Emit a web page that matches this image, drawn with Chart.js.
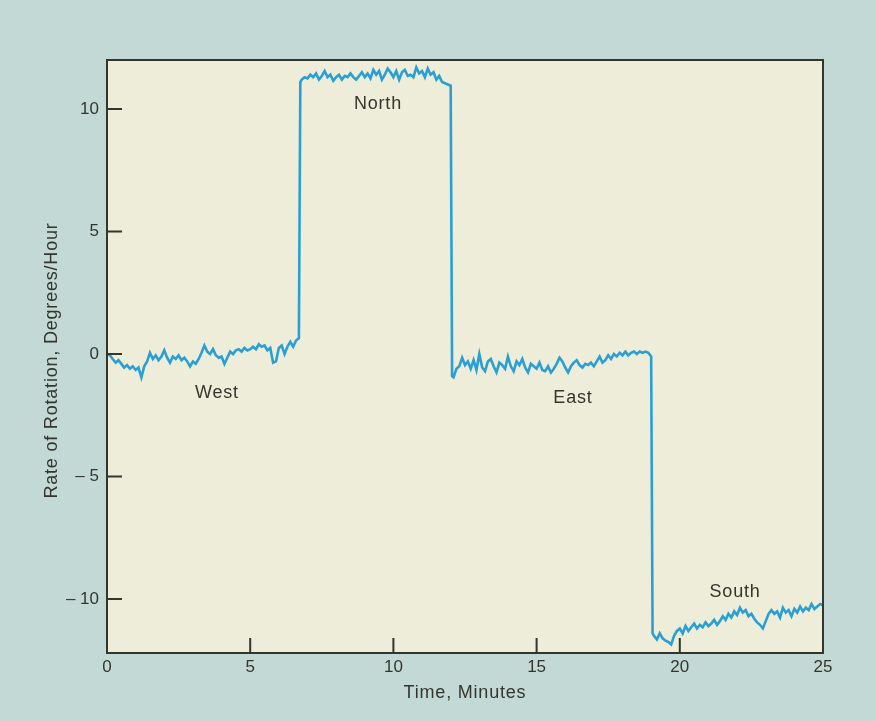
<!DOCTYPE html>
<html>
<head>
<meta charset="utf-8">
<script src="https://cdn.jsdelivr.net/npm/chart.js@4"></script>
<style>
  html, body { margin: 0; padding: 0; background: #c3d9d5; }
  #wrap { width: 876px; height: 721px; position: relative; }
</style>
</head>
<body>
<div id="wrap"><canvas id="rotChart" width="876" height="721"></canvas></div>
<script>
// Rate of rotation vs time, gyro pointed at four headings

const timeMinutes = [
  0.0, 0.1, 0.2, 0.3, 0.4, 0.5, 0.6, 0.7, 0.8, 0.9,
  1.0, 1.1, 1.2, 1.3, 1.4, 1.5, 1.6, 1.7, 1.8, 1.9,
  2.0, 2.1, 2.2, 2.3, 2.4, 2.5, 2.6, 2.7, 2.8, 2.9,
  3.0, 3.1, 3.2, 3.3, 3.4, 3.5, 3.6, 3.7, 3.8, 3.9,
  4.0, 4.1, 4.2, 4.3, 4.4, 4.5, 4.6, 4.7, 4.8, 4.9,
  5.0, 5.1, 5.2, 5.3, 5.4, 5.5, 5.6, 5.7, 5.8, 5.9,
  6.0, 6.1, 6.2, 6.3, 6.4, 6.5, 6.6, 6.7, 6.75,
  6.8, 6.9, 7.0, 7.1, 7.2, 7.3, 7.4, 7.5, 7.6, 7.7, 7.8, 7.9,
  8.0, 8.1, 8.2, 8.3, 8.4, 8.5, 8.6, 8.7, 8.8, 8.9,
  9.0, 9.1, 9.2, 9.3, 9.4, 9.5, 9.6, 9.7, 9.8, 9.9,
  10.0, 10.1, 10.2, 10.3, 10.4, 10.5, 10.6, 10.7, 10.8, 10.9,
  11.0, 11.1, 11.2, 11.3, 11.4, 11.5, 11.6, 11.7, 11.8, 11.9,
  12.0, 12.05,
  12.1, 12.2, 12.3, 12.4, 12.5, 12.6, 12.7, 12.8, 12.9,
  13.0, 13.1, 13.2, 13.3, 13.4, 13.5, 13.6, 13.7, 13.8, 13.9,
  14.0, 14.1, 14.2, 14.3, 14.4, 14.5, 14.6, 14.7, 14.8, 14.9,
  15.0, 15.1, 15.2, 15.3, 15.4, 15.5, 15.6, 15.7, 15.8, 15.9,
  16.0, 16.1, 16.2, 16.3, 16.4, 16.5, 16.6, 16.7, 16.8, 16.9,
  17.0, 17.1, 17.2, 17.3, 17.4, 17.5, 17.6, 17.7, 17.8, 17.9,
  18.0, 18.1, 18.2, 18.3, 18.4, 18.5, 18.6, 18.7, 18.8, 18.9,
  19.0, 19.05,
  19.1, 19.2, 19.3, 19.4, 19.5, 19.6, 19.7, 19.8, 19.9,
  20.0, 20.1, 20.2, 20.3, 20.4, 20.5, 20.6, 20.7, 20.8, 20.9,
  21.0, 21.1, 21.2, 21.3, 21.4, 21.5, 21.6, 21.7, 21.8, 21.9,
  22.0, 22.1, 22.2, 22.3, 22.4, 22.5, 22.6, 22.7, 22.8, 22.9,
  23.0, 23.1, 23.2, 23.3, 23.4, 23.5, 23.6, 23.7, 23.8, 23.9,
  24.0, 24.1, 24.2, 24.3, 24.4, 24.5, 24.6, 24.7, 24.8, 24.9,
  25.0
];

const rateDegPerHour = [
  // West
  0.0, -0.05, -0.2, -0.35, -0.25, -0.4, -0.55, -0.45, -0.6, -0.5,
  -0.65, -0.55, -0.95, -0.5, -0.3, 0.05, -0.2, -0.05, -0.25, -0.1,
  0.15, -0.15, -0.35, -0.1, -0.2, -0.05, -0.25, -0.15, -0.3, -0.5,
  -0.3, -0.4, -0.2, 0.05, 0.35, 0.1, 0.0, 0.2, -0.05, -0.15,
  -0.1, -0.4, -0.15, 0.1, 0.0, 0.15, 0.2, 0.1, 0.25, 0.15,
  0.2, 0.3, 0.2, 0.4, 0.3, 0.35, 0.15, 0.25, -0.35, -0.3,
  0.25, 0.35, 0.0, 0.3, 0.5, 0.3, 0.55, 0.65, 11.1,
  // North
  11.2, 11.3, 11.25, 11.4, 11.3, 11.45, 11.2, 11.35, 11.55, 11.3, 11.4, 11.15,
  11.3, 11.4, 11.2, 11.35, 11.3, 11.45, 11.3, 11.2, 11.35, 11.5,
  11.3, 11.45, 11.25, 11.6, 11.4, 11.55, 11.2, 11.4, 11.65, 11.5,
  11.3, 11.55, 11.2, 11.5, 11.6, 11.35, 11.4, 11.3, 11.7, 11.45,
  11.55, 11.3, 11.65, 11.4, 11.5, 11.2, 11.35, 11.1, 11.05, 11.0,
  10.95, -0.9,
  // East
  -0.95, -0.6, -0.5, -0.15, -0.45, -0.3, -0.6, -0.25, -0.65,
  0.0, -0.55, -0.7, -0.3, -0.2, -0.5, -0.75, -0.35, -0.45, -0.6,
  -0.1, -0.5, -0.7, -0.3, -0.45, -0.2, -0.55, -0.75, -0.4, -0.5,
  -0.6, -0.35, -0.65, -0.7, -0.5, -0.75, -0.6, -0.4, -0.15, -0.3,
  -0.55, -0.75, -0.5, -0.35, -0.25, -0.45, -0.55, -0.4, -0.45, -0.35,
  -0.5, -0.3, -0.1, -0.35, -0.25, -0.05, -0.2, 0.0, -0.1, 0.05,
  -0.05, 0.1, -0.05, 0.05, 0.1, 0.0, 0.1, 0.05, 0.1, 0.05,
  -0.1, -11.4,
  // South
  -11.5, -11.65, -11.4, -11.6, -11.7, -11.75, -11.85, -11.5, -11.3,
  -11.2, -11.4, -11.1, -11.3, -11.15, -11.0, -11.2, -11.05, -11.15, -10.95,
  -11.1, -11.0, -10.85, -11.05, -10.9, -10.7, -10.85, -10.6, -10.75, -10.5,
  -10.65, -10.35, -10.55, -10.45, -10.7, -10.6, -10.8, -10.95, -11.05, -11.2,
  -10.9, -10.6, -10.45, -10.6, -10.5, -10.75, -10.35, -10.55, -10.45, -10.7,
  -10.4, -10.55, -10.3, -10.5, -10.35, -10.45, -10.2, -10.4, -10.3, -10.2,
  -10.25
];

const xTickValues = [0, 5, 10, 15, 20, 25];
const yTickValues = [10, 5, 0, -5, -10];

const xTitle = 'Time, Minutes';
const yTitle = 'Rate of Rotation, Degrees/Hour';

const headingNames = ['West', 'North', 'East', 'South'];
const headingTimes = [3.84, 9.46, 16.27, 21.93];
const headingRates = [-1.6, 10.2, -1.8, -9.7];

const inkColor = '#34362e';
const fontFamily = 'Liberation Sans, Arial, sans-serif';

function minusLabel(v) {
  return v < 0 ? '\u2013 ' + Math.abs(v) : String(v);
}

// plot box, inner tick marks, axis titles and the heading names
const framePlugin = {
  id: 'frame',
  beforeDraw(chart) {
    const { ctx, chartArea: a } = chart;
    ctx.save();
    ctx.fillStyle = '#c3d9d5';
    ctx.fillRect(0, 0, chart.width, chart.height);
    ctx.fillStyle = '#eeedd9';
    ctx.fillRect(a.left, a.top, a.right - a.left, a.bottom - a.top);
    ctx.restore();
  },
  afterDatasetsDraw(chart) {
    const { ctx, chartArea: a, scales } = chart;
    ctx.save();
    ctx.strokeStyle = inkColor;
    ctx.lineWidth = 2;
    ctx.strokeRect(a.left, a.top, a.right - a.left, a.bottom - a.top);
    ctx.beginPath();
    yTickValues.forEach(v => {
      const y = scales.y.getPixelForValue(v);
      ctx.moveTo(a.left, y);
      ctx.lineTo(a.left + 15, y);
    });
    xTickValues.forEach(v => {
      if (v === 0 || v === 25) return;
      const x = scales.x.getPixelForValue(v);
      ctx.moveTo(x, a.bottom);
      ctx.lineTo(x, a.bottom - 15);
    });
    ctx.stroke();

    ctx.fillStyle = inkColor;
    ctx.font = '18px ' + fontFamily;
    ctx.letterSpacing = '0.8px';
    ctx.textAlign = 'center';
    ctx.textBaseline = 'middle';
    headingNames.forEach((name, i) => {
      ctx.fillText(name, scales.x.getPixelForValue(headingTimes[i]), scales.y.getPixelForValue(headingRates[i]));
    });

    ctx.fillText(xTitle, (a.left + a.right) / 2, 693);
    ctx.translate(52, (a.top + a.bottom) / 2 + 4);
    ctx.rotate(-Math.PI / 2);
    ctx.fillText(yTitle, 0, 0);
    ctx.restore();
  }
};

const ctx = document.getElementById('rotChart').getContext('2d');

new Chart(ctx, {
  type: 'line',
  data: {
    datasets: [{
      label: 'Rate of Rotation',
      data: timeMinutes.map((t, i) => ({ x: t, y: rateDegPerHour[i] })),
      borderColor: '#2a9fd3',
      borderWidth: 2.6,
      pointRadius: 0,
      tension: 0,
      fill: false
    }]
  },
  options: {
    responsive: false,
    animation: false,
    layout: { padding: { left: 0, top: 60, right: 53, bottom: 0 } },
    plugins: {
      legend: { display: false },
      tooltip: { enabled: false }
    },
    scales: {
      x: {
        type: 'linear',
        min: 0,
        max: 25,
        afterBuildTicks: s => { s.ticks = xTickValues.map(v => ({ value: v })); },
        afterFit: s => { s.height = 68; },
        grid: { display: false, drawTicks: false },
        border: { display: false },
        ticks: {
          color: inkColor,
          padding: 4,
          font: { family: fontFamily, size: 17 },
          maxRotation: 0
        }
      },
      y: {
        min: -12.2,
        max: 12,
        afterBuildTicks: s => { s.ticks = yTickValues.map(v => ({ value: v })); },
        afterFit: s => { s.width = 107; },
        grid: { display: false, drawTicks: false },
        border: { display: false },
        ticks: {
          color: inkColor,
          padding: 8,
          font: { family: fontFamily, size: 17 },
          callback: v => minusLabel(v)
        }
      }
    }
  },
  plugins: [framePlugin]
});
</script>
</body>
</html>
